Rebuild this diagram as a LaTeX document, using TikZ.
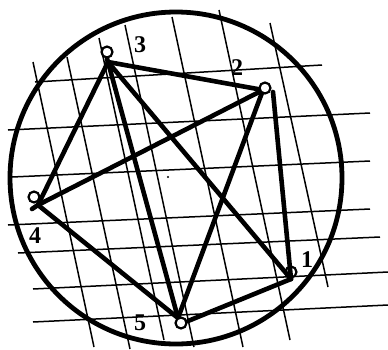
\documentclass[tikz,border=0pt]{standalone}
\usepackage{fontspec}
\setmainfont{Liberation Serif}
\begin{document}
\begin{tikzpicture}[x=1pt,y=-1pt,
  gridline/.style={line width=1.5pt},
  edge/.style={line width=4.6pt, line cap=round},
  vmark/.style={circle, draw, line width=2.2pt, fill=white, minimum size=11pt, inner sep=0pt},
  lab/.style={font=\fontsize{24}{24}\selectfont\bfseries, inner sep=0pt}]
\useasboundingbox (0,0) rectangle (388,349);
% skewed grid, near-horizontal lines
\coordinate (h1a) at (35,82);  \coordinate (h1b) at (322,65);
\coordinate (h2a) at (8,130);  \coordinate (h2b) at (370,113);
\coordinate (h3a) at (12,177); \coordinate (h3b) at (370,161);
\coordinate (h4a) at (8,225);  \coordinate (h4b) at (370,209);
\coordinate (h5a) at (18,253); \coordinate (h5b) at (380,237);
\coordinate (h6a) at (33,289); \coordinate (h6b) at (388,272);
\coordinate (h7a) at (33,322); \coordinate (h7b) at (388,305);
\foreach \i in {1,...,7} \draw[gridline] (h\i a) -- (h\i b);
% near-vertical lines
\coordinate (g1a) at (33,62);  \coordinate (g1b) at (94,347);
\coordinate (g2a) at (67,57);  \coordinate (g2b) at (130,349);
\coordinate (g3a) at (99,38);  \coordinate (g3b) at (164,340);
\coordinate (g4a) at (125,25); \coordinate (g4b) at (194,347);
\coordinate (g5a) at (172,17); \coordinate (g5b) at (243,347);
\coordinate (g6a) at (219,10); \coordinate (g6b) at (290,340);
\coordinate (g7a) at (270,23); \coordinate (g7b) at (328,287);
\foreach \i in {1,...,7} \draw[gridline] (g\i a) -- (g\i b);
% outer circle
\coordinate (ctr) at (176,178);
\draw[line width=4.8pt] (ctr) circle[radius=166];
\fill (168,177) circle[radius=1.1];
% vertices
\coordinate (v1) at (291,279);
\coordinate (v2) at (263,90);
\coordinate (v2b) at (273,92);
\coordinate (v3) at (108,62);
\coordinate (v4) at (38,205);
\coordinate (v4s) at (32,209);
\coordinate (v5) at (178,318);
\coordinate (v5b) at (188,321);
\node[vmark] (m1) at (291,272) {};
% edges
\draw[edge] (v3) -- (v2);
\draw[edge] (v3) -- (v4);
\draw[edge] (v3) -- (v5);
\draw[edge] (v3) -- (v1);
\draw[edge] (v2) -- (v4);
\draw[edge] (v2) -- (v5);
\draw[edge] (v2b) -- (v1);
\draw[edge] (v4) -- (v5);
\draw[edge] (v5b) -- (v1);
\draw[edge] (v4) -- (v4s);
% markers
\node[vmark] (m2) at (265,88) {};
\node[vmark] (m3) at (107,52) {};
\draw[edge] (m3.south) -- (v3);
\node[vmark] (m4) at (34,197) {};
\node[vmark] (m5) at (181,323) {};
% labels
\node[lab] (l1) at (307,260) {1};
\node[lab] (l2) at (237,68) {2};
\node[lab] (l3) at (140,45) {3};
\node[lab] (l4) at (35,236) {4};
\node[lab] (l5) at (140,323) {5};
\end{tikzpicture}
\end{document}
